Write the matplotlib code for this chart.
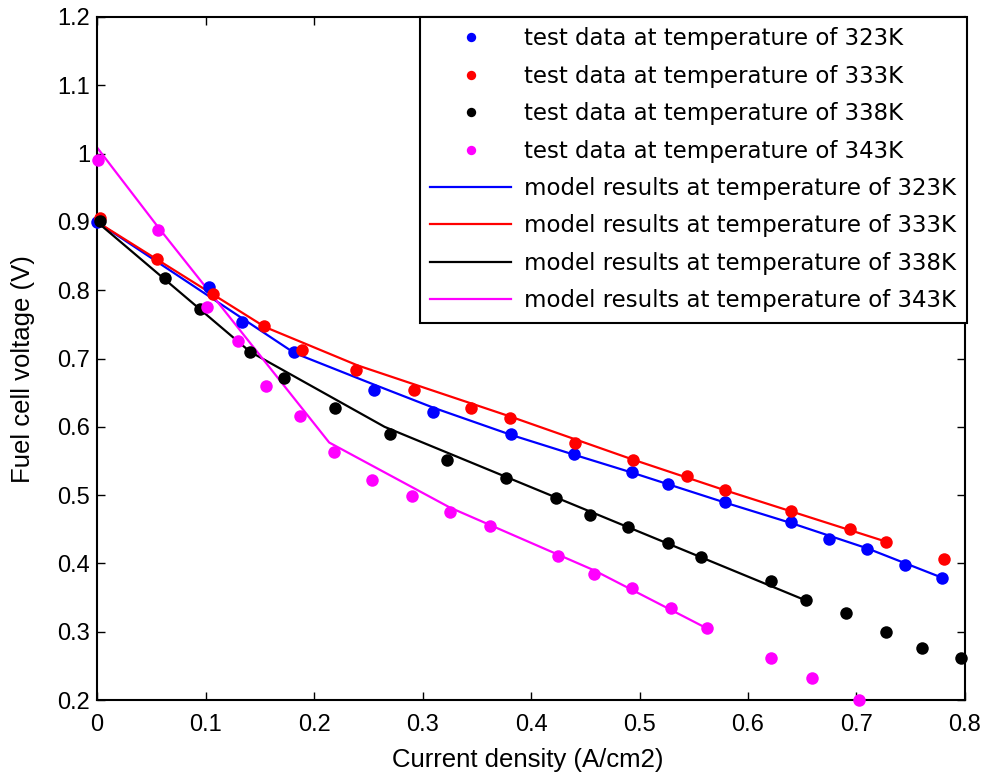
import matplotlib
matplotlib.use("Agg")
import matplotlib.pyplot as plt

plt.rcParams['font.family'] = ['Liberation Sans', 'DejaVu Sans']

temps = ["323K", "333K", "338K", "343K"]
colors = ["#0000ff", "#ff0000", "#000000", "#ff00ff"]

# test data (current density A/cm2, voltage V)
test_x_323 = [0.0, 0.103, 0.134, 0.182, 0.255, 0.310, 0.382, 0.440, 0.493, 0.526, 0.579, 0.640, 0.675, 0.710, 0.745, 0.779]
test_y_323 = [0.900, 0.804, 0.753, 0.710, 0.654, 0.621, 0.589, 0.560, 0.534, 0.516, 0.490, 0.460, 0.436, 0.421, 0.397, 0.379]

test_x_333 = [0.003, 0.055, 0.107, 0.154, 0.189, 0.239, 0.292, 0.345, 0.381, 0.441, 0.494, 0.544, 0.579, 0.640, 0.694, 0.727, 0.781]
test_y_333 = [0.905, 0.846, 0.794, 0.748, 0.712, 0.683, 0.654, 0.627, 0.613, 0.577, 0.551, 0.528, 0.507, 0.477, 0.450, 0.432, 0.406]

test_x_338 = [0.003, 0.063, 0.095, 0.141, 0.172, 0.219, 0.270, 0.323, 0.377, 0.423, 0.454, 0.489, 0.526, 0.557, 0.621, 0.653, 0.690, 0.727, 0.760, 0.796]
test_y_338 = [0.902, 0.818, 0.773, 0.709, 0.672, 0.628, 0.589, 0.551, 0.525, 0.496, 0.471, 0.454, 0.430, 0.410, 0.374, 0.346, 0.327, 0.300, 0.276, 0.261]

test_x_343 = [0.001, 0.056, 0.101, 0.130, 0.156, 0.187, 0.218, 0.253, 0.290, 0.325, 0.362, 0.425, 0.458, 0.493, 0.529, 0.562, 0.621, 0.659, 0.702]
test_y_343 = [0.990, 0.888, 0.775, 0.726, 0.660, 0.616, 0.563, 0.522, 0.499, 0.476, 0.455, 0.411, 0.385, 0.364, 0.335, 0.305, 0.262, 0.232, 0.200]

# model results
model_x_323 = [0.0, 0.182, 0.255, 0.310, 0.382, 0.440, 0.493, 0.579, 0.640, 0.710, 0.779]
model_y_323 = [0.900, 0.708, 0.662, 0.628, 0.588, 0.559, 0.533, 0.489, 0.459, 0.422, 0.379]

model_x_333 = [0.0, 0.155, 0.240, 0.381, 0.494, 0.579, 0.727]
model_y_333 = [0.900, 0.746, 0.690, 0.615, 0.552, 0.507, 0.432]

model_x_338 = [0.0, 0.141, 0.265, 0.653]
model_y_338 = [0.900, 0.710, 0.600, 0.346]

model_x_343 = [0.0, 0.056, 0.214, 0.325, 0.458, 0.562]
model_y_343 = [1.009, 0.893, 0.577, 0.482, 0.390, 0.305]

test_x = [test_x_323, test_x_333, test_x_338, test_x_343]
test_y = [test_y_323, test_y_333, test_y_338, test_y_343]
model_x = [model_x_323, model_x_333, model_x_338, model_x_343]
model_y = [model_y_323, model_y_333, model_y_338, model_y_343]

fig = plt.figure(figsize=(9.87, 7.76), dpi=100)
ax = fig.add_axes([0.0983, 0.0979, 0.8794, 0.8802])

for i in range(4):
    ax.plot(test_x[i], test_y[i], 'o', color=colors[i], markersize=9, markeredgewidth=0,
            label="test data at temperature of " + temps[i], clip_on=False, zorder=3)
for i in range(4):
    ax.plot(model_x[i], model_y[i], '-', color=colors[i], linewidth=1.6,
            label="model results at temperature of " + temps[i], zorder=2)

ax.set_xlim(0, 0.8)
ax.set_ylim(0.2, 1.2)
ax.set_xticks([0, 0.1, 0.2, 0.3, 0.4, 0.5, 0.6, 0.7, 0.8])
ax.set_xticklabels(["0", "0.1", "0.2", "0.3", "0.4", "0.5", "0.6", "0.7", "0.8"])
ax.set_yticks([0.2, 0.3, 0.4, 0.5, 0.6, 0.7, 0.8, 0.9, 1.0, 1.1, 1.2])
ax.set_yticklabels(["0.2", "0.3", "0.4", "0.5", "0.6", "0.7", "0.8", "0.9", "1", "1.1", "1.2"])
ax.tick_params(direction='in', top=True, right=True, length=6, width=1, labelsize=17)
ax.tick_params(axis='x', pad=10)
ax.tick_params(axis='y', pad=5)
for s in ax.spines.values():
    s.set_linewidth(1.5)

ax.set_xlabel("Current density (A/cm2)", fontsize=18.5)
ax.set_ylabel("Fuel cell voltage (V)", fontsize=18.5)
ax.xaxis.set_label_coords(0.496, -0.07)
ax.yaxis.set_label_coords(-0.071, 0.485)

leg = ax.legend(loc='upper right', bbox_to_anchor=(1.002, 1.0), borderaxespad=0,
                prop={'family': 'DejaVu Sans', 'size': 16.5},
                fancybox=False, edgecolor='black', framealpha=1,
                handlelength=3.5, labelspacing=0.63, markerscale=0.75, handletextpad=0.6,
                borderpad=0.45)
leg.get_frame().set_linewidth(1.5)

fig.savefig("out.png", dpi=100)
